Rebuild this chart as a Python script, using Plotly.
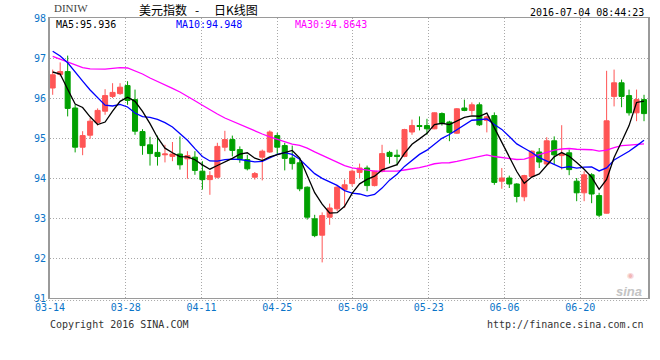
import plotly.graph_objects as go
import pandas as pd

# ---------------- data ----------------
tick_labels = ["03-14", "03-28", "04-11", "04-25", "05-09", "05-23", "06-06", "06-20"]

open_ = [96.25, 96.59, 96.66, 95.75, 94.77, 95.07, 95.39, 95.67, 96.04, 96.11,
         96.31, 95.96, 95.16, 94.83, 94.64, 94.58, 94.54, 94.60, 94.48, 94.52,
         94.17, 93.96, 94.02, 94.77, 94.96, 94.71, 94.46, 94.02, 94.52, 94.65,
         95.06, 94.81, 94.50, 94.38, 93.77, 92.98, 92.57, 93.02, 93.23, 93.71,
         93.86, 94.14, 94.25, 93.81, 94.17, 94.64, 94.57, 94.54, 95.15, 95.31,
         95.31, 95.23, 95.61, 95.40, 95.12, 95.75, 95.69, 95.83, 95.44, 95.56,
         93.92, 94.00, 93.85, 93.53, 94.04, 94.65, 94.35, 94.93, 94.56, 94.63,
         93.92, 93.63, 94.08, 93.56, 93.12, 96.04, 96.38, 96.06, 95.63, 95.96]
high_ = [96.71, 96.89, 97.06, 95.83, 95.17, 95.50, 95.74, 96.22, 96.37, 96.37,
         96.42, 96.21, 95.22, 95.03, 95.06, 94.83, 94.90, 95.04, 94.67, 94.67,
         94.42, 94.17, 94.88, 95.18, 95.06, 94.79, 94.58, 94.15, 94.71, 95.19,
         95.13, 94.88, 94.81, 94.50, 93.79, 93.08, 93.14, 93.36, 93.82, 93.96,
         94.21, 94.36, 94.31, 94.18, 94.83, 94.68, 94.71, 95.23, 95.46, 95.54,
         95.48, 95.64, 95.64, 95.43, 95.75, 95.96, 95.89, 95.89, 95.56, 95.64,
         94.25, 94.06, 93.87, 94.08, 94.69, 94.75, 95.02, 95.04, 95.32, 94.71,
         94.00, 94.17, 94.12, 93.63, 96.68, 96.71, 96.46, 96.21, 96.21, 96.08]
low_ = [96.08, 96.54, 95.54, 94.64, 94.57, 94.98, 95.31, 95.58, 96.00, 96.08,
        95.83, 95.08, 94.58, 94.31, 94.31, 94.39, 94.42, 94.21, 93.98, 94.08,
        93.71, 93.58, 93.99, 94.67, 94.54, 94.38, 94.19, 93.96, 93.94, 94.63,
        94.58, 94.19, 94.21, 93.67, 92.96, 92.52, 91.89, 92.83, 93.17, 93.25,
        93.79, 94.00, 93.67, 93.79, 94.14, 94.36, 94.31, 94.52, 95.08, 95.19,
        95.08, 95.22, 95.31, 94.92, 95.10, 95.67, 95.58, 95.30, 95.14, 93.83,
        93.73, 93.75, 93.39, 93.42, 94.02, 94.25, 94.31, 94.33, 94.21, 94.07,
        93.42, 93.42, 93.37, 93.02, 93.11, 95.79, 95.77, 95.56, 95.42, 95.42]
close_ = [96.58, 96.66, 95.74, 94.77, 95.06, 95.42, 95.69, 96.06, 96.14, 96.27,
          95.94, 95.17, 94.81, 94.61, 94.54, 94.60, 94.60, 94.33, 94.56, 94.19,
          93.96, 94.06, 94.79, 94.96, 94.69, 94.48, 94.23, 94.11, 94.67, 95.15,
          94.77, 94.49, 94.36, 93.73, 93.02, 92.56, 93.06, 93.25, 93.77, 93.83,
          94.17, 94.25, 93.81, 94.17, 94.61, 94.54, 94.54, 95.21, 95.31, 95.29,
          95.23, 95.63, 95.38, 95.14, 95.73, 95.69, 95.83, 95.33, 95.53, 93.89,
          94.00, 93.85, 93.54, 94.06, 94.67, 94.40, 94.93, 94.58, 94.60, 94.21,
          93.63, 94.08, 93.60, 93.07, 95.43, 96.38, 96.04, 95.63, 95.96, 95.61]

# moving-average values at the start of the window (need earlier days)
ma5_head = [96.65, 96.60, 96.22, 95.85]
ma10_head = [97.17, 97.05, 96.88, 96.64, 96.42, 96.20, 96.00, 95.82, 95.80]
ma30_head = [97.04, 96.97, 96.89, 96.82, 96.76, 96.73, 96.72, 96.72, 96.74, 96.76,
             96.75, 96.68, 96.60, 96.50, 96.42, 96.33, 96.24, 96.15, 96.05, 95.93,
             95.82, 95.70, 95.60, 95.50, 95.42, 95.32, 95.24, 95.17, 95.10]
ma_text = ["MA5:95.936", "MA10:94.948", "MA30:94.8643"]
title_parts = ["美元指数", "-", "日K线图"]
symbol_text = "DINIW"
time_text = "2016-07-04 08:44:23"

# ---------------- derived series ----------------
idx = list(range(len(close_)))
cs = pd.Series(close_)
def ma(n, head):
    v = cs.rolling(n).mean().tolist()
    v[:len(head)] = head
    return v
ma5 = ma(5, ma5_head)
ma10 = ma(10, ma10_head)
ma30 = ma(30, ma30_head)

# ---------------- styling / layout ----------------
W, H = 660, 360
L, R, T, B = 50, 10, 18, 62
PW, PH = W - L - R, H - T - B
def px(x):
    return (x - L) / PW
def py(y):
    return (H - B - y) / PH

RED = "#FF5555"
GREEN = "#00A000"
BLUE_TXT = "#0A74C8"
MONO = "DejaVu Sans Mono"
GRID = "#A8A8A8"
FRAME = "#9A9A9A"

fig = go.Figure()
fig.add_trace(go.Candlestick(
    x=idx, open=open_, high=high_, low=low_, close=close_,
    increasing=dict(line=dict(color=RED, width=1), fillcolor=RED),
    decreasing=dict(line=dict(color=GREEN, width=1), fillcolor=GREEN),
    whiskerwidth=0, showlegend=False, hoverinfo="skip"))
fig.add_trace(go.Scatter(x=idx, y=ma30, mode="lines",
                         line=dict(color="#FF00FF", width=1.3), showlegend=False, hoverinfo="skip"))
fig.add_trace(go.Scatter(x=idx, y=ma10, mode="lines",
                         line=dict(color="#0000FF", width=1.3), showlegend=False, hoverinfo="skip"))
fig.add_trace(go.Scatter(x=idx, y=ma5, mode="lines",
                         line=dict(color="#000000", width=1.3), showlegend=False, hoverinfo="skip"))

x0, x1 = -0.36, 79.53
step = 76 * (x1 - x0) / PW
tickvals = [x0 + step * k for k in range(len(tick_labels))]

fig.update_layout(
    width=W, height=H,
    margin=dict(l=L, r=R, t=T, b=B, pad=0),
    paper_bgcolor="white", plot_bgcolor="white",
    boxgap=0.33, boxgroupgap=0,
    xaxis=dict(range=[x0, x1], tickmode="array", tickvals=tickvals, ticktext=tick_labels,
               showgrid=True, gridcolor=GRID, griddash="1px,2px", gridwidth=1,
               zeroline=False, showline=True, mirror=True, linecolor=FRAME, linewidth=1,
               ticks="", tickfont=dict(family=MONO, size=10, color=BLUE_TXT),
               rangeslider=dict(visible=False), fixedrange=True),
    yaxis=dict(range=[91, 98], tick0=91, dtick=1,
               showgrid=True, gridcolor=GRID, griddash="1px,2px", gridwidth=1,
               zeroline=False, showline=True, mirror=True, linecolor=FRAME, linewidth=2,
               ticks="", tickfont=dict(family=MONO, size=10, color=BLUE_TXT), fixedrange=True),
)

fig.add_shape(type="line", xref="paper", yref="paper", x0=px(34), x1=px(650),
              y0=py(300.5), y1=py(300.5), line=dict(color=GRID, width=1, dash="1px,2px"))

def note(text, x, y, anchor="left", size=10, color="#000", family=MONO, **kw):
    fig.add_annotation(text=text, xref="paper", yref="paper", x=px(x), y=py(y),
                       xanchor=anchor, yanchor="middle", showarrow=False,
                       font=dict(family=family, size=size, color=color), **kw)

CJK = "Noto Sans CJK SC"
note(symbol_text, 52, 8.5, size=11, color="#444", family="Liberation Serif")
note(title_parts[0], 163, 9.5, anchor="center", size=12, color="#000", family=CJK)
note(title_parts[1], 197, 9.5, anchor="center", size=12, color="#000", family=CJK)
note(title_parts[2], 237, 9.5, anchor="center", size=12, color="#000", family=CJK)
note(time_text, 648, 12, anchor="right")
note(ma_text[0], 54, 24, color="#000")
note(ma_text[1], 174, 24, color="#0000FF")
note(ma_text[2], 294, 24, color="#FF00FF")
note("Copyright 2016 SINA.COM", 48, 324, color="#333")
note("http://finance.sina.com.cn", 648, 324, anchor="right", color="#333")
note("<b><i>sina</i></b>", 646, 291, anchor="right", size=13, color="#C4C4C4", family="Liberation Sans")
note("◉", 632, 275, anchor="center", size=8, color="#F2B8B8", family="DejaVu Sans")

fig.write_html("out.html", config={"displayModeBar": False},
               post_script="document.body.style.margin='0';document.body.style.padding='0';")
